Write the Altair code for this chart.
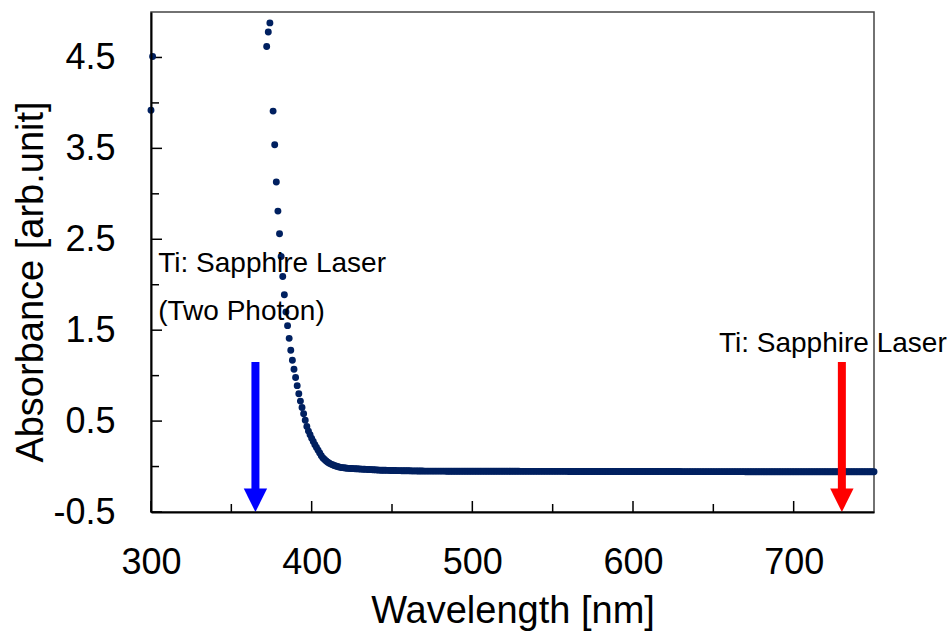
import altair as alt
import pandas as pd

# ---------------- data ----------------
wavelength = [300, 301, 372, 373, 374] + list(range(376, 751))
absorbance = [
    3.92, 4.51, 4.62, 4.78, 4.88,
    3.91, 3.54, 3.13, 2.81, 2.56, 2.31, 2.09, 1.89, 1.70, 1.55,            # 376-385
    1.41, 1.28, 1.17, 1.07, 0.98, 0.89, 0.80, 0.72, 0.65, 0.58,            # 386-395
    0.51, 0.44, 0.39, 0.35, 0.31, 0.275, 0.24, 0.21, 0.18, 0.15,           # 396-405
    0.12, 0.095, 0.078, 0.062, 0.048, 0.036, 0.027, 0.019, 0.012, 0.006,   # 406-415
    0.0, -0.005, -0.009, -0.012, -0.014, -0.016, -0.018, -0.020, -0.021, -0.022,  # 416-425
    -0.023, -0.024, -0.025, -0.026, -0.027, -0.028, -0.029, -0.030, -0.031, -0.032,  # 426-435
    -0.033, -0.034, -0.035, -0.036, -0.037, -0.038, -0.039, -0.040, -0.040, -0.041,  # 436-445
    -0.041, -0.042, -0.042, -0.043, -0.043, -0.044, -0.044, -0.045, -0.045, -0.045,  # 446-455
    -0.046, -0.046, -0.046, -0.047, -0.047, -0.047, -0.048, -0.048, -0.048, -0.048,  # 456-465
    -0.049, -0.049, -0.049, -0.049, -0.050, -0.050, -0.050, -0.050, -0.050, -0.050,  # 466-475
    -0.050, -0.050, -0.050, -0.050, -0.050, -0.050, -0.050, -0.050, -0.051, -0.051,  # 476-485
    -0.051, -0.051, -0.051, -0.051, -0.051, -0.051, -0.051, -0.051, -0.051, -0.051,  # 486-495
    -0.051, -0.051, -0.051, -0.051, -0.051, -0.052, -0.052, -0.052, -0.052, -0.052,  # 496-505
    -0.052, -0.052, -0.052, -0.052, -0.052, -0.052, -0.052, -0.052, -0.052, -0.052,  # 506-515
    -0.052, -0.052, -0.052, -0.052, -0.052, -0.052, -0.052, -0.052, -0.052, -0.052,  # 516-525
    -0.052, -0.052, -0.052, -0.052, -0.053, -0.053, -0.053, -0.053, -0.053, -0.053,  # 526-535
    -0.053, -0.053, -0.053, -0.053, -0.053, -0.053, -0.053, -0.053, -0.053, -0.053,  # 536-545
    -0.053, -0.053, -0.053, -0.053, -0.053, -0.053, -0.053, -0.053, -0.053, -0.053,  # 546-555
    -0.053, -0.053, -0.053, -0.053, -0.054, -0.054, -0.054, -0.054, -0.054, -0.054,  # 556-565
    -0.054, -0.054, -0.054, -0.054, -0.054, -0.054, -0.054, -0.054, -0.054, -0.054,  # 566-575
    -0.054, -0.054, -0.054, -0.054, -0.054, -0.054, -0.054, -0.054, -0.054, -0.054,  # 576-585
    -0.054, -0.054, -0.054, -0.054, -0.055, -0.055, -0.055, -0.055, -0.055, -0.055,  # 586-595
    -0.055, -0.055, -0.055, -0.055, -0.055, -0.055, -0.055, -0.055, -0.055, -0.055,  # 596-605
    -0.055, -0.055, -0.055, -0.055, -0.055, -0.055, -0.055, -0.055, -0.055, -0.055,  # 606-615
    -0.055, -0.055, -0.055, -0.055, -0.055, -0.055, -0.055, -0.055, -0.055, -0.055,  # 616-625
    -0.055, -0.055, -0.055, -0.055, -0.056, -0.056, -0.056, -0.056, -0.056, -0.056,  # 626-635
    -0.056, -0.056, -0.056, -0.056, -0.056, -0.056, -0.056, -0.056, -0.056, -0.056,  # 636-645
    -0.056, -0.056, -0.056, -0.056, -0.056, -0.056, -0.056, -0.056, -0.056, -0.056,  # 646-655
    -0.056, -0.056, -0.056, -0.056, -0.056, -0.056, -0.056, -0.056, -0.056, -0.056,  # 656-665
    -0.056, -0.056, -0.056, -0.056, -0.057, -0.057, -0.057, -0.057, -0.057, -0.057,  # 666-675
    -0.057, -0.057, -0.057, -0.057, -0.057, -0.057, -0.057, -0.057, -0.057, -0.057,  # 676-685
    -0.057, -0.057, -0.057, -0.057, -0.057, -0.057, -0.057, -0.057, -0.057, -0.057,  # 686-695
    -0.057, -0.057, -0.057, -0.057, -0.057, -0.057, -0.057, -0.057, -0.057, -0.057,  # 696-705
    -0.057, -0.057, -0.057, -0.057, -0.057, -0.057, -0.057, -0.057, -0.057, -0.057,  # 706-715
    -0.057, -0.057, -0.057, -0.057, -0.058, -0.058, -0.058, -0.058, -0.058, -0.058,  # 716-725
    -0.058, -0.058, -0.058, -0.058, -0.058, -0.058, -0.058, -0.058, -0.058, -0.058,  # 726-735
    -0.058, -0.058, -0.058, -0.058, -0.058, -0.058, -0.058, -0.058, -0.058, -0.058,  # 736-745
    -0.058, -0.058, -0.058, -0.058, -0.058,                                          # 746-750
]
assert len(wavelength) == len(absorbance)

x_major = [300, 400, 500, 600, 700]
x_minor = [350, 450, 550, 650]
y_major = [-0.5, 0.5, 1.5, 2.5, 3.5, 4.5]
y_minor = [0, 1, 2, 3, 4]

arrow_x = [365, 730]
arrow_top = [1.15, 1.15]
arrow_shaft_end = [-0.3, -0.3]
arrow_tip = [-0.5, -0.5]
arrow_color = ["#0000FF", "#FF0000"]

note_text = ["Ti: Sapphire Laser", "(Two Photon)", "Ti: Sapphire Laser"]
note_x = [304.5, 304.5, 653.5]
note_y = [2.14, 1.61, 1.26]

# ---------------- chart ----------------
FONT = "Liberation Sans"
xscale = alt.Scale(domain=[300, 750], nice=False, zero=False)
yscale = alt.Scale(domain=[-0.5, 5.0], nice=False, zero=False)

xaxis = alt.Axis(values=x_major, format="d", ticks=False, tickSize=0, grid=False,
                 labelFlush=False, labelOverlap=False,
                 labelFontSize=36, labelPadding=33, labelColor="black", labelFont=FONT,
                 title="Wavelength [nm]", titleFontSize=38, titleFontWeight="normal",
                 titleFont=FONT, titleColor="black", titleX=361.5, titleY=110,
                 titleAlign="center", titleBaseline="alphabetic",
                 domainColor="black", domainWidth=2, zindex=1)
yaxis = alt.Axis(values=y_major, ticks=False, tickSize=0, grid=False,
                 labelFlush=False, labelOverlap=False,
                 labelExpr="datum.value < 0 ? '-' + format(-datum.value, '.1f') : format(datum.value, '.1f')",
                 labelFontSize=36, labelPadding=36, labelColor="black", labelFont=FONT,
                 title="Absorbance [arb.unit]", titleFontSize=38, titleFontWeight="normal",
                 titleFont=FONT, titleColor="black", titleX=-109, titleY=269.5,
                 titleAlign="center", titleBaseline="alphabetic",
                 domainColor="black", domainWidth=2, zindex=1)

df = pd.DataFrame({"wl": wavelength, "abs": absorbance})
df_arrow = pd.DataFrame({"ax": arrow_x, "top": arrow_top, "end": arrow_shaft_end,
                         "tip": arrow_tip, "col": arrow_color})
df_note = pd.DataFrame({"nx": note_x, "ny": note_y, "txt": note_text})

points = alt.Chart(df).mark_circle(size=48, color="#002060", opacity=1).encode(
    x=alt.X("wl:Q", scale=xscale, axis=xaxis),
    y=alt.Y("abs:Q", scale=yscale, axis=yaxis),
)

def xticks(vals, length):
    return alt.Chart(pd.DataFrame({"t": vals})).mark_rule(color="black", strokeWidth=1.5).encode(
        x=alt.X("t:Q", scale=xscale, axis=xaxis),
        y=alt.value(500), y2=alt.value(500 - length))

def yticks(vals, length):
    return alt.Chart(pd.DataFrame({"t": vals})).mark_rule(color="black", strokeWidth=1.5).encode(
        y=alt.Y("t:Q", scale=yscale, axis=yaxis),
        x=alt.value(0), x2=alt.value(length))

shafts = alt.Chart(df_arrow).mark_rule(strokeWidth=8, strokeCap="butt").encode(
    x=alt.X("ax:Q", scale=xscale, axis=xaxis),
    y=alt.Y("top:Q", scale=yscale, axis=yaxis),
    y2="end:Q",
    color=alt.Color("col:N", scale=None),
)
heads = alt.Chart(df_arrow).mark_point(shape="M -1 -2 L 1 -2 L 0 0 Z", size=547,
                                       filled=True, opacity=1, strokeWidth=0).encode(
    x=alt.X("ax:Q", scale=xscale, axis=xaxis),
    y=alt.Y("tip:Q", scale=yscale, axis=yaxis),
    color=alt.Color("col:N", scale=None),
)
notes = alt.Chart(df_note).mark_text(align="left", baseline="alphabetic", fontSize=28,
                                     font=FONT, color="black").encode(
    x=alt.X("nx:Q", scale=xscale, axis=xaxis),
    y=alt.Y("ny:Q", scale=yscale, axis=yaxis),
    text="txt:N",
)

chart = alt.layer(
    xticks(x_major, 11), xticks(x_minor, 8), yticks(y_major, 11), yticks(y_minor, 8),
    points, shafts, heads, notes
).properties(
    width=723, height=500,
    padding={"left": 151, "top": 12, "right": 75, "bottom": 119},
    autosize=alt.AutoSizeParams(type="none"),
    background="white",
).configure_view(stroke="#444444", strokeWidth=1.5)

chart.save("out.html", embed_options={"renderer": "svg", "actions": False})
